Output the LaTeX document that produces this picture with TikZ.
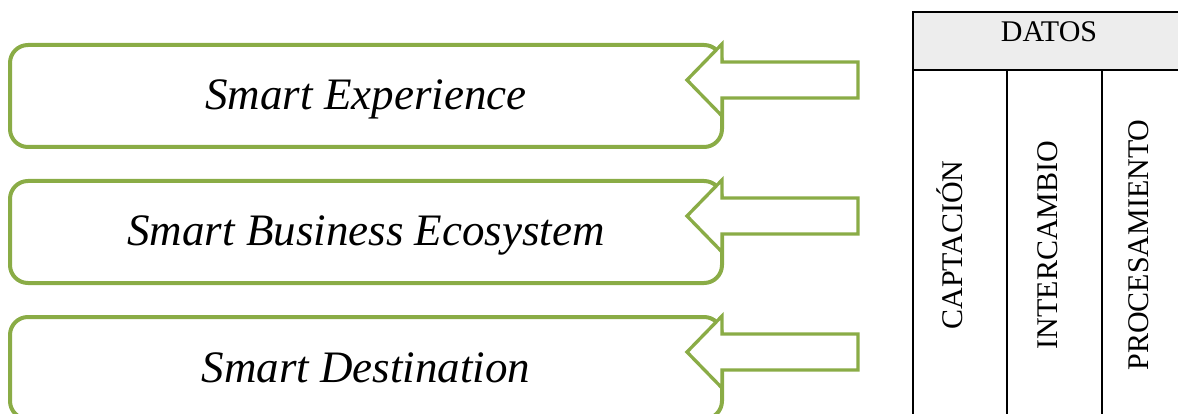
\documentclass[tikz,border=0pt]{standalone}
\usepackage{fontspec}
\setmainfont{Liberation Serif}
\definecolor{grn}{HTML}{8AAC46}
\definecolor{hdr}{HTML}{EDEDED}
\begin{document}
\begin{tikzpicture}[x=1pt,y=-1pt,
  sbox/.style={draw=grn, line width=4pt, rounded corners=18pt, fill=white},
  sarrow/.style={draw=grn, line width=3.3pt, fill=white, line join=miter},
  btxt/.style={font=\fontsize{45}{50}\selectfont\itshape, inner sep=0pt},
  ttxt/.style={font=\fontsize{30}{33}\selectfont, inner sep=0pt},
  tline/.style={line width=2pt, black}]
\useasboundingbox (0,0) rectangle (1178,414);
% boxes and arrows
\foreach \i/\t in {0/Smart Experience,1/Smart Business Ecosystem,2/Smart Destination}{
  \begin{scope}[yshift=-\i*136pt]
    \draw[sbox] (10,45) rectangle (722,147);
    \node[btxt, anchor=base] (b\i) at (366,110) {\t};
    \draw[sarrow] (687,80) -- (722,44) -- (722,62) -- (858,62) -- (858,98) -- (722,98) -- (722,116) -- cycle;
  \end{scope}
}
% table
\fill[hdr] (913,12) rectangle (1200,70);
\draw[tline] (1200,12) -- (913,12) -- (913,430);
\draw[tline] (913,70) -- (1200,70);
\draw[tline] (1007,70) -- (1007,430);
\draw[tline] (1102,70) -- (1102,430);
\node[ttxt, anchor=base] (datos) at (1049,42) {DATOS};
\node[ttxt, anchor=base, rotate=90] (capt) at (962,245) {CAPTACIÓN};
\node[ttxt, anchor=base, rotate=90] (inter) at (1057,245) {INTERCAMBIO};
\node[ttxt, anchor=base, rotate=90] (proc) at (1148,245) {PROCESAMIENTO};
\end{tikzpicture}
\end{document}
